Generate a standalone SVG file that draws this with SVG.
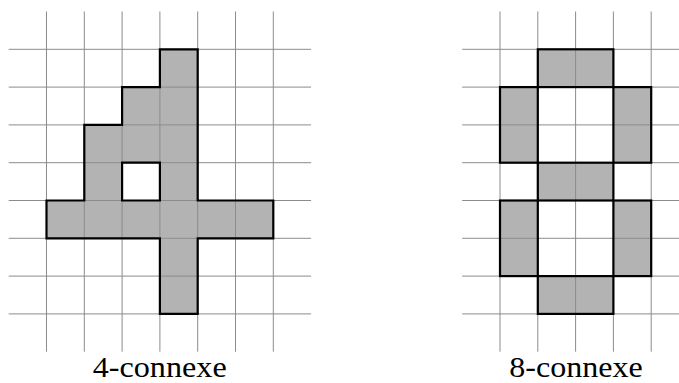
<svg xmlns="http://www.w3.org/2000/svg" width="679" height="383" viewBox="0 0 679 383">
<style>
.fill{fill:#b3b3b3;stroke:none}
.grid line{stroke:#8c8c8c;stroke-width:1}
.out{fill:none;stroke:#000;stroke-width:2.2;stroke-linejoin:miter}
.lbl{font-family:"Liberation Serif","DejaVu Serif",serif;font-size:30px;fill:#000;text-anchor:middle}
</style>
<rect width="679" height="383" fill="#fff"/>
<g id="left">
<path class="fill" fill-rule="evenodd" d="M159.9,49.3 H197.7 V200.5 H273.3 V238.3 H197.7 V313.9 H159.9 V238.3 H46.5 V200.5 H84.3 V124.9 H122.1 V87.1 H159.9 Z M122.1,162.7 H159.9 V200.5 H122.1 Z"/>
<g class="grid">
<line x1="46.5" y1="11.5" x2="46.5" y2="351.7"/>
<line x1="84.3" y1="11.5" x2="84.3" y2="351.7"/>
<line x1="122.1" y1="11.5" x2="122.1" y2="351.7"/>
<line x1="159.9" y1="11.5" x2="159.9" y2="351.7"/>
<line x1="197.7" y1="11.5" x2="197.7" y2="351.7"/>
<line x1="235.5" y1="11.5" x2="235.5" y2="351.7"/>
<line x1="273.3" y1="11.5" x2="273.3" y2="351.7"/>
<line x1="8.7" y1="49.3" x2="311.1" y2="49.3"/>
<line x1="8.7" y1="87.1" x2="311.1" y2="87.1"/>
<line x1="8.7" y1="124.9" x2="311.1" y2="124.9"/>
<line x1="8.7" y1="162.7" x2="311.1" y2="162.7"/>
<line x1="8.7" y1="200.5" x2="311.1" y2="200.5"/>
<line x1="8.7" y1="238.3" x2="311.1" y2="238.3"/>
<line x1="8.7" y1="276.1" x2="311.1" y2="276.1"/>
<line x1="8.7" y1="313.9" x2="311.1" y2="313.9"/>
</g>
<path class="out" d="M159.9,49.3 H197.7 V200.5 H273.3 V238.3 H197.7 V313.9 H159.9 V238.3 H46.5 V200.5 H84.3 V124.9 H122.1 V87.1 H159.9 Z M122.1,162.7 H159.9 V200.5 H122.1 Z"/>
<text class="lbl" x="159.7" y="377" textLength="134" lengthAdjust="spacingAndGlyphs">4-connexe</text>
</g>
<g id="right">
<g class="fill">
<rect x="537.8" y="49.3" width="75.6" height="37.8"/>
<rect x="500" y="87.1" width="37.8" height="75.6"/>
<rect x="613.4" y="87.1" width="37.8" height="75.6"/>
<rect x="537.8" y="162.7" width="75.6" height="37.8"/>
<rect x="500" y="200.5" width="37.8" height="75.6"/>
<rect x="613.4" y="200.5" width="37.8" height="75.6"/>
<rect x="537.8" y="276.1" width="75.6" height="37.8"/>
</g>
<g class="grid">
<line x1="500" y1="11.5" x2="500" y2="351.7"/>
<line x1="537.8" y1="11.5" x2="537.8" y2="351.7"/>
<line x1="575.6" y1="11.5" x2="575.6" y2="351.7"/>
<line x1="613.4" y1="11.5" x2="613.4" y2="351.7"/>
<line x1="651.2" y1="11.5" x2="651.2" y2="351.7"/>
<line x1="462.2" y1="49.3" x2="689" y2="49.3"/>
<line x1="462.2" y1="87.1" x2="689" y2="87.1"/>
<line x1="462.2" y1="124.9" x2="689" y2="124.9"/>
<line x1="462.2" y1="162.7" x2="689" y2="162.7"/>
<line x1="462.2" y1="200.5" x2="689" y2="200.5"/>
<line x1="462.2" y1="238.3" x2="689" y2="238.3"/>
<line x1="462.2" y1="276.1" x2="689" y2="276.1"/>
<line x1="462.2" y1="313.9" x2="689" y2="313.9"/>
</g>
<g class="out">
<rect x="537.8" y="49.3" width="75.6" height="37.8"/>
<rect x="500" y="87.1" width="37.8" height="75.6"/>
<rect x="613.4" y="87.1" width="37.8" height="75.6"/>
<rect x="537.8" y="162.7" width="75.6" height="37.8"/>
<rect x="500" y="200.5" width="37.8" height="75.6"/>
<rect x="613.4" y="200.5" width="37.8" height="75.6"/>
<rect x="537.8" y="276.1" width="75.6" height="37.8"/>
</g>
<text class="lbl" x="576" y="377" textLength="133.4" lengthAdjust="spacingAndGlyphs">8-connexe</text>
</g>
</svg>
